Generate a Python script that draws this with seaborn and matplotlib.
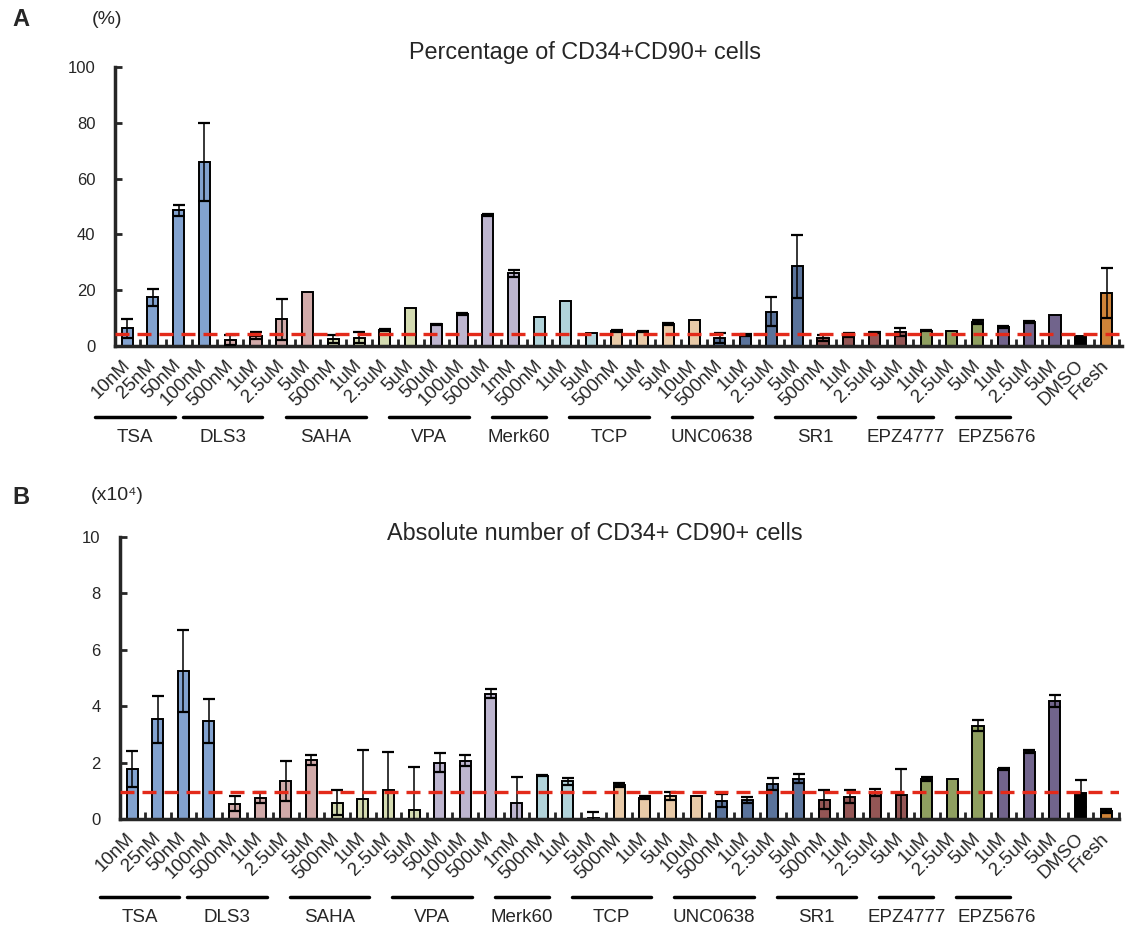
import matplotlib
matplotlib.use("Agg")
import matplotlib.pyplot as plt
import numpy as np
import pandas as pd
import seaborn as sns

# groups and doses (labels shown on the x axis)
groups = ["TSA", "DLS3", "SAHA", "VPA", "Merk60", "TCP", "UNC0638", "SR1", "EPZ4777", "EPZ5676", "DMSO", "Fresh"]
doses = [
    ["10nM", "25nM", "50nM", "100nM"],
    ["500nM", "1uM", "2.5uM", "5uM"],
    ["500nM", "1uM", "2.5uM", "5uM"],
    ["50uM", "100uM", "500uM", "1mM"],
    ["500nM", "1uM", "5uM"],
    ["500nM", "1uM", "5uM", "10uM"],
    ["500nM", "1uM", "2.5uM", "5uM"],
    ["500nM", "1uM", "2.5uM", "5uM"],
    ["1uM", "2.5uM", "5uM"],
    ["1uM", "2.5uM", "5uM"],
    ["DMSO"],
    ["Fresh"],
]
group_colors = ["#75a0dc", "#d8a4a2", "#d9e2aa", "#bbb1d3", "#aad7e1", "#f3cb9d",
                "#4f71a6", "#9e4c4b", "#94a955", "#6e5e92", "#000000", "#e8831f"]

# panel A: percentage of CD34+CD90+ cells (mean, sd)
pct = [6.3, 17.5, 48.7, 65.8,
       2.2, 3.7, 9.6, 19.3,
       2.4, 2.9, 5.7, 13.5,
       7.8, 11.4, 47.0, 26.1,
       10.5, 16.1, 4.8,
       5.5, 5.1, 7.8, 9.3,
       2.75, 3.9, 12.3, 28.5,
       3.0, 3.8, 4.9, 5.0,
       5.4, 5.5, 8.6,
       6.8, 8.7, 11.1,
       3.6, 18.9]
pct_sd = [3.5, 3.0, 2.0, 14.0,
          1.8, 1.2, 7.3, 0,
          1.5, 2.0, 0.3, 0,
          0.2, 0.4, 0.4, 1.2,
          0, 0, 0,
          0.4, 0.2, 0.3, 0,
          1.8, 0.4, 5.2, 11.4,
          1.1, 0.7, 0.2, 1.5,
          0.2, 0, 0.6,
          0.2, 0.3, 0,
          0, 9.0]
pct_ref = 4.3

# panel B: absolute number of CD34+CD90+ cells (x10^4)
absn = [1.78, 3.53, 5.24, 3.48,
        0.54, 0.76, 1.36, 2.09,
        0.58, 0.70, 1.03, 0.32,
        2.00, 2.07, 4.45, 0.56,
        1.54, 1.33, 0.04,
        1.21, 0.76, 0.82, 0.80,
        0.65, 0.66, 1.23, 1.43,
        0.69, 0.79, 0.93, 0.84,
        1.43, 1.43, 3.31,
        1.78, 2.39, 4.19,
        0.91, 0.28]
absn_sd = [0.63, 0.84, 1.46, 0.78,
           0.27, 0.18, 0.71, 0.17,
           0.45, 1.75, 1.33, 1.51,
           0.35, 0.19, 0.15, 0.93,
           0.02, 0.12, 0.21,
           0.06, 0.06, 0.14, 0,
           0.22, 0.11, 0.21, 0.17,
           0.34, 0.24, 0.13, 0.94,
           0.07, 0, 0.19,
           0.03, 0.04, 0.21,
           0.49, 0.07]
absn_ref = 0.95

# build long table
rows = []
for g, ds in zip(groups, doses):
    for d in ds:
        rows.append((g, d))
df = pd.DataFrame(rows, columns=["group", "dose"])
df["cond"] = [f"{g} {d}" for g, d in rows]
df["pct"] = pct
df["pct_sd"] = pct_sd
df["absn"] = absn
df["absn_sd"] = absn_sd
palette = {c: group_colors[groups.index(g)] for c, g in zip(df["cond"], df["group"])}

sns.set_style("ticks")
plt.rcParams["font.family"] = ["Liberation Sans", "DejaVu Sans"]

fig = plt.figure(figsize=(11.42, 9.27), dpi=100)
W, H = 1142, 927


def panel(rect, col, sdcol, ref, ymax, ystep, xright, line_y, text_y, title, title_xy):
    ax = fig.add_axes(rect)
    sns.barplot(data=df, x="cond", y=col, hue="cond", palette=palette, legend=False,
                width=0.43, edgecolor="black", linewidth=1.4, ax=ax)
    x = np.arange(len(df))
    m = df[sdcol].to_numpy() > 0
    ax.errorbar(x[m], df[col].to_numpy()[m], yerr=df[sdcol].to_numpy()[m], fmt="none",
                ecolor="black", elinewidth=1.1, capsize=4, capthick=1.6, zorder=4)
    ax.axhline(ref, color="#e32a1a", lw=2.4, ls=(0, (4.2, 2.4)), zorder=5)

    ax.set_xlim(-0.47, xright)
    ax.set_ylim(0, ymax)
    ax.set_yticks(np.arange(0, ymax + 0.01, ystep))
    ax.set_xticks(x)
    ax.set_xticklabels(df["dose"], rotation=45, ha="right", va="center",
                       rotation_mode="anchor", fontsize=13.5)
    ax.set_xticks(np.append(x + 0.5, -0.47), minor=True)
    ax.tick_params(axis="x", which="major", length=0, pad=12)
    ax.tick_params(axis="x", which="minor", direction="in", length=5, width=2)
    ax.tick_params(axis="y", direction="in", length=5, width=2, labelsize=12, pad=14)
    ax.set_xlabel("")
    ax.set_ylabel("")
    sns.despine(ax=ax)
    ax.spines["left"].set_linewidth(2.5)
    ax.spines["bottom"].set_linewidth(2.5)

    # group underline + name
    tr = ax.get_xaxis_transform()
    start = 0
    for g, ds in zip(groups, doses):
        n = len(ds)
        if g not in ("DMSO", "Fresh"):
            off = max(-1.85, -1.25 - start)
            x0 = start + off
            x1 = start + n - 1 + off + 0.1
            ax.plot([x0, x1], [line_y, line_y], color="black", lw=2.5,
                    transform=tr, clip_on=False)
            nudge = 0.55 if g == "EPZ5676" else 0
            ax.text((x0 + x1) / 2 + nudge, text_y, g, transform=tr, ha="center", va="center",
                    fontsize=13.5)
        start += n

    fig.text(title_xy[0] / W, 1 - title_xy[1] / H, title, ha="center", va="center", fontsize=16.8)
    return ax


axA = panel([115 / W, 1 - 346 / H, (1122 - 115) / W, 279 / H], "pct", "pct_sd", pct_ref,
            100, 20, 38.6, -0.255, -0.327, "Percentage of CD34+CD90+ cells", (585, 52))
axB = panel([120 / W, 1 - 819 / H, (1119 - 120) / W, 282 / H], "absn", "absn_sd", absn_ref,
            10, 2, 38.5, -0.278, -0.35, "Absolute number of CD34+ CD90+ cells", (595, 533))

fig.text(12 / W, 1 - 20 / H, "A", fontsize=17, fontweight="bold", ha="left", va="center")
fig.text(107 / W, 1 - 20 / H, "(%)", fontsize=14, ha="center", va="center")
fig.text(12 / W, 1 - 497 / H, "B", fontsize=17, fontweight="bold", ha="left", va="center")
fig.text(117 / W, 1 - 495 / H, "(x10⁴)", fontsize=14, ha="center", va="center")

fig.savefig("out.png", dpi=100)
